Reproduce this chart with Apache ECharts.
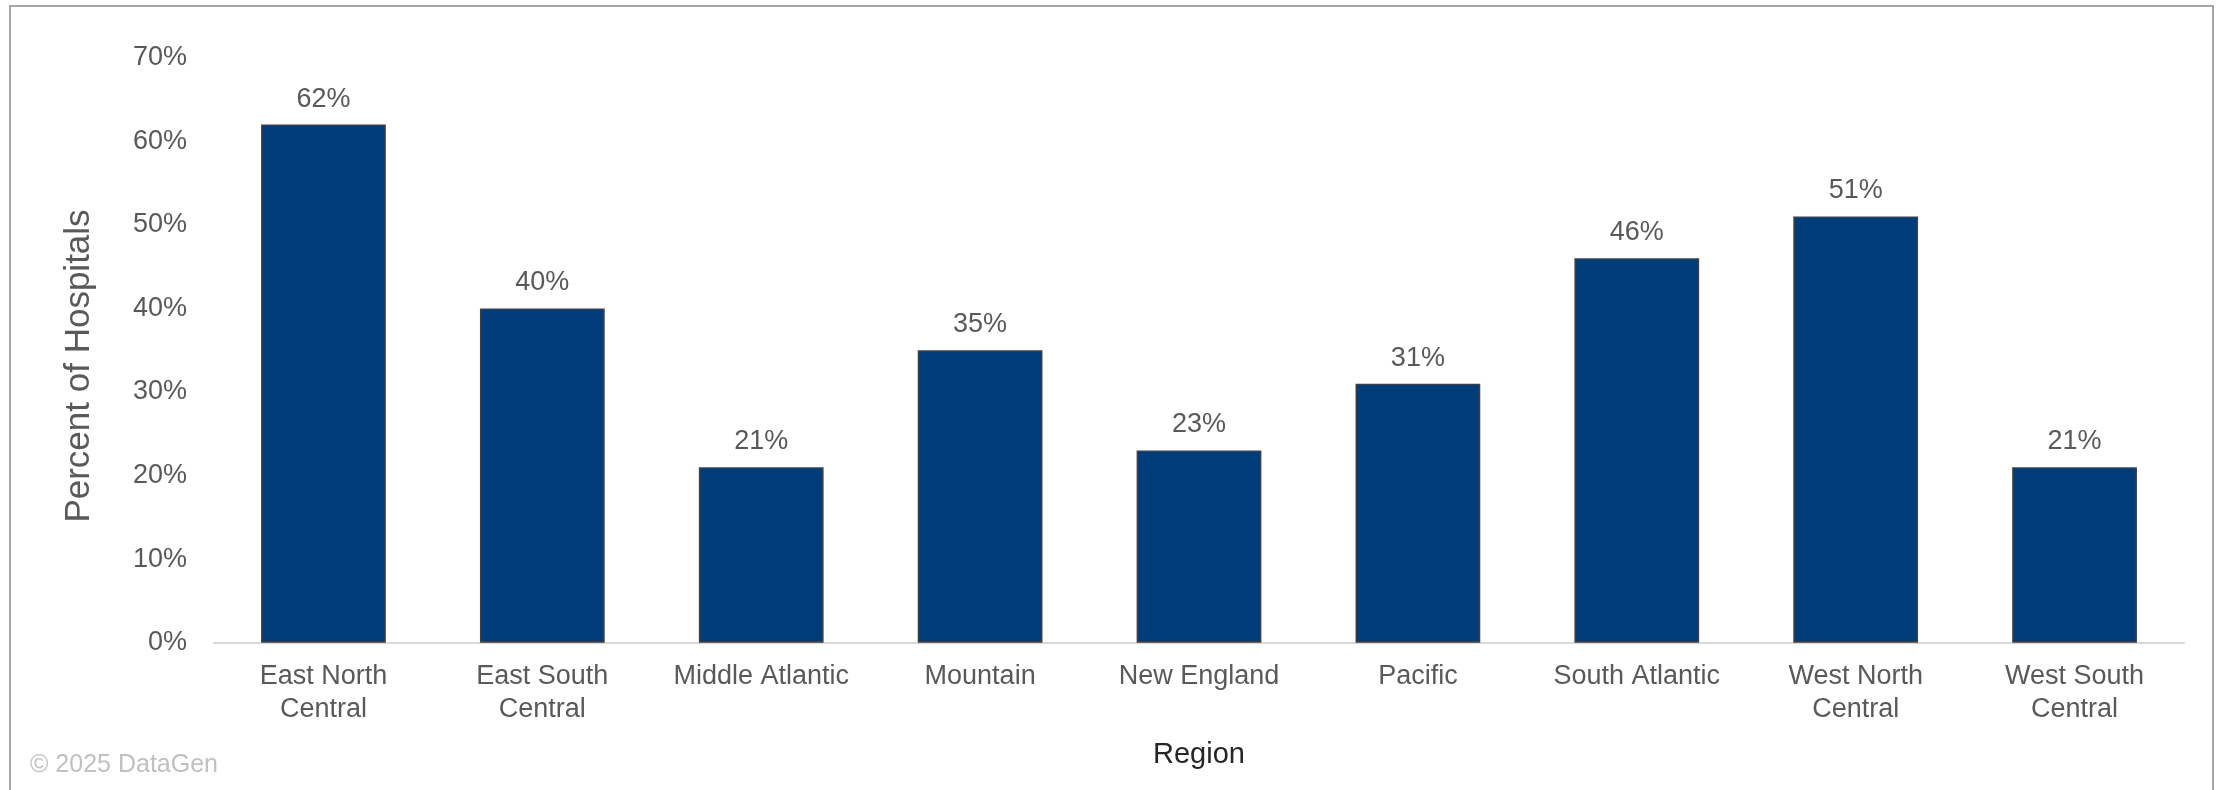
<!DOCTYPE html>
<html>
<head>
<meta charset="utf-8">
<title>Percent of Hospitals by Region</title>
<script src="https://cdn.jsdelivr.net/npm/echarts@6/dist/echarts.min.js"></script>
<style>
  html, body { margin: 0; padding: 0; background: #ffffff; }
  #chart { width: 2218px; height: 790px; }
</style>
</head>
<body>
<div id="chart"></div>
<script>
// Regions along the x axis
const regions = [
  'East North\nCentral',
  'East South\nCentral',
  'Middle Atlantic',
  'Mountain',
  'New England',
  'Pacific',
  'South Atlantic',
  'West North\nCentral',
  'West South\nCentral'
];

// Share of hospitals in each region (percent)
const percentOfHospitals = [62, 40, 21, 35, 23, 31, 46, 51, 21];

// Value axis range and step (percent)
const yMin = 0;
const yMax = 70;
const yStep = 10;

const FONT = '"Liberation Sans", Arial, sans-serif';

const chart = echarts.init(document.getElementById('chart'), null, { renderer: 'canvas' });

chart.setOption({
  backgroundColor: '#ffffff',
  animation: false,
  textStyle: { fontFamily: FONT },
  grid: {
    left: 214,
    right: 34,
    top: 57.7,
    bottom: 147.3,
    containLabel: false
  },
  graphic: [
    {
      type: 'rect',
      shape: { x: 10, y: 6, width: 2203, height: 800 },
      style: { fill: 'none', stroke: '#a6a6a6', lineWidth: 2 },
      silent: true,
      z: 0
    },
    {
      // vertical axis title, rotated to read bottom-to-top
      type: 'text',
      x: 79,
      y: 366,
      rotation: Math.PI / 2,
      style: {
        text: 'Percent of Hospitals',
        fill: '#595959',
        font: '35px ' + FONT,
        align: 'center',
        verticalAlign: 'middle'
      },
      silent: true
    },
    {
      type: 'text',
      left: 30,
      top: 753,
      style: {
        text: '\u00A9 2025 DataGen',
        fill: '#c0c0c0',
        font: '25px ' + FONT
      },
      silent: true
    }
  ],
  xAxis: {
    type: 'category',
    data: regions,
    name: 'Region',
    nameLocation: 'middle',
    nameGap: 98,
    nameTextStyle: {
      color: '#262626',
      fontSize: 29,
      fontFamily: FONT
    },
    axisLine: { show: true, lineStyle: { color: '#d9d9d9', width: 2 } },
    axisTick: { show: false },
    axisLabel: {
      color: '#595959',
      fontSize: 27,
      lineHeight: 33,
      margin: 17,
      interval: 0,
      fontFamily: FONT
    },
    splitLine: { show: false }
  },
  yAxis: {
    type: 'value',
    min: yMin,
    max: yMax,
    interval: yStep,
    axisLine: { show: false },
    axisTick: { show: false },
    splitLine: { show: false },
    axisLabel: {
      color: '#595959',
      fontSize: 27,
      margin: 27,
      fontFamily: FONT,
      formatter: v => v + '%'
    }
  },
  series: [
    {
      type: 'bar',
      data: percentOfHospitals,
      barWidth: '57%',
      itemStyle: {
        color: '#003b7a',
        borderColor: '#404040',
        borderWidth: 1.5
      },
      label: {
        show: true,
        position: 'top',
        distance: 12,
        color: '#595959',
        fontSize: 27,
        fontFamily: FONT,
        formatter: p => p.value + '%'
      }
    }
  ]
});
</script>
</body>
</html>
